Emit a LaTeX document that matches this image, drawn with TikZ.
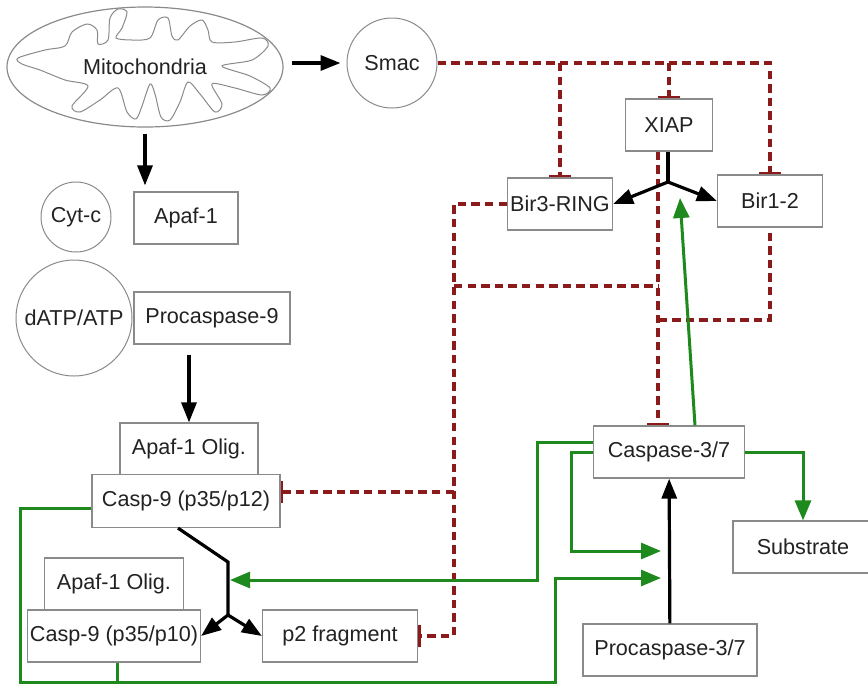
\documentclass[tikz,border=0pt]{standalone}
\usepackage{fontspec}
\setmainfont{Liberation Sans}
\usepackage{tikz}
\usetikzlibrary{positioning,arrows.meta,shapes.geometric}
\definecolor{cverde}{HTML}{1E8A1E}
\definecolor{crojo}{HTML}{8B1A1A}
\definecolor{cgris}{HTML}{8A8A8A}
\definecolor{ctexto}{HTML}{222222}
\tikzset{
  caja/.style={rectangle, draw=cgris, fill=white, line width=0.6pt, inner sep=0pt,
    text=ctexto, font=\fontsize{10.8}{13}\selectfont},
  circulo/.style={circle, draw=cgris, line width=0.5pt, inner sep=0pt,
    text=ctexto, font=\fontsize{10.8}{13}\selectfont},
  flecha/.style={-{Triangle[length=10pt,width=7.5pt]}, line width=1.6pt, draw=black},
  linea/.style={line width=1.6pt, draw=black},
  flechav/.style={-{Triangle[length=10pt,width=8pt]}, line width=1.5pt, draw=cverde},
  lineav/.style={line width=1.5pt, draw=cverde},
  rojo/.style={line width=1.7pt, draw=crojo, dash pattern=on 4.2pt off 2.6pt},
  inhibe/.style={rojo, -{Bar[width=11pt,line width=1.4pt]}},
}
\begin{document}
\begin{tikzpicture}[x=0.5pt, y=-0.5pt]
  \useasboundingbox (0,0) rectangle (868,687);
  \draw[cgris, line width=0.5pt] plot[smooth cycle, tension=0.5] coordinates {
    (18,58) (45,50) (65,46) (72,32) (87,24) (97,30) (98,44) (108,40) (110,18)
    (118,9) (127,12) (122,28) (116,38) (132,40) (150,38) (158,20) (168,18)
    (172,36) (178,40) (190,26) (202,20) (208,30) (212,42) (235,42) (262,38)
    (268,46) (252,60) (222,66) (250,76) (270,88) (262,95) (235,88) (212,84)
    (222,104) (215,112) (200,94) (188,82) (180,102) (170,120) (161,117)
    (155,94) (150,84) (142,106) (136,119) (127,112) (118,88) (100,100)
    (80,112) (72,106) (88,86) (65,80) (40,70) (22,64)};
  \node[ellipse, draw=cgris, line width=0.6pt, minimum width=138pt, minimum height=60pt,
    text=ctexto, font=\fontsize{10.8}{13}\selectfont] (mito) at (145,67) {Mitochondria};
  \node[circulo, minimum size=45pt] (smac) at (392,63) {Smac};
  \node[circulo, minimum size=35pt] (cytc) at (76,217) {Cyt-c};
  \node[caja, minimum width=52pt, minimum height=26pt] (apaf) at (186,218) {Apaf-1};
  \node[circulo, minimum size=58pt] (datp) at (74,318) {dATP/ATP};
  \node[caja, minimum width=78pt, minimum height=26pt] (procasp9) at (212,318) {Procaspase-9};
  \node[caja, minimum width=69pt, minimum height=26pt] (olig1) at (189,449) {Apaf-1 Olig.};
  \node[caja, minimum width=94pt, minimum height=26.5pt] (casp9a) at (186,501) {Casp-9 (p35/p12)};
  \node[caja, minimum width=69.5pt, minimum height=26pt] (olig2) at (114,584) {Apaf-1 Olig.};
  \node[caja, minimum width=86.5pt, minimum height=26pt] (casp9b) at (114,636) {Casp-9 (p35/p10)};
  \node[caja, minimum width=77.5pt, minimum height=26pt] (p2) at (340,636) {p2 fragment};
  \node[caja, minimum width=43.5pt, minimum height=26pt] (xiap) at (669,125) {XIAP};
  \node[caja, minimum width=52.5pt, minimum height=26pt] (bir3) at (560,204) {Bir3-RING};
  \node[caja, minimum width=52.5pt, minimum height=26pt] (bir12) at (770,201) {Bir1-2};
  \node[caja, minimum width=75.5pt, minimum height=26pt] (casp37) at (669,452) {Caspase-3/7};
  \node[caja, minimum width=70pt, minimum height=26pt] (subst) at (803,547) {Substrate};
  \node[caja, minimum width=87pt, minimum height=26pt] (procasp37) at (670,650) {Procaspase-3/7};
  \coordinate (jx) at (668,182);
  \coordinate (jv) at (680,198);
  \coordinate (codo) at (228,562);
  \coordinate (jc) at (228,615);
  \coordinate (gc9) at (230,580);
  \coordinate (t1) at (661,551);
  \coordinate (t2) at (661,578);
  \coordinate (fondoiz) at (20,682);
  \coordinate (fondoder) at (555,682);
  \coordinate (c9b) at ([xshift=1.5pt]casp9b.south);
  \coordinate (rv) at ([xshift=-26.5pt]bir3.west);
  \coordinate (c9r) at ([yshift=4.5pt]casp9a.east);
  \coordinate (xv) at ([xshift=-5.5pt]xiap.south);
  \coordinate (xc) at ([xshift=-5.5pt]casp37.north);
  \draw[inhibe] (smac.east) -| (bir12.north);
  \draw[inhibe] (smac.east -| bir3.north) -- (bir3.north);
  \draw[inhibe] (smac.east -| xiap.north) -- (xiap.north);
  \draw[inhibe] (bir3.west) -- (rv) |- (p2.east);
  \draw[inhibe] (rv |- c9r) -- (c9r);
  \draw[rojo] (rv |- 0,286) -- (xv |- 0,286);
  \draw[rojo, shorten <=2.5pt] (bir12.south) |- (xv |- 0,320);
  \draw[inhibe] (xv) -- (xc);
  \draw[flecha, shorten <=4pt, shorten >=3pt] (mito.east |- smac) -- (smac.west);
  \draw[flecha, shorten <=3pt, shorten >=3pt] (mito.south) -- (mito.south |- apaf.north);
  \draw[flecha, shorten <=5pt] (procasp9.south -| olig1.north) -- (olig1.north);
  \draw[linea] ([xshift=-4pt]casp9a.south) -- (codo) -- (jc);
  \draw[flecha] (jc) -- (casp9b.east);
  \draw[flecha] (jc) -- (p2.west);
  \draw[linea] (xiap.south -| jx) -- (jx);
  \draw[flecha] (jx) -- (bir3.east);
  \draw[flecha] (jx) -- (bir12.west);
  \draw[flecha] (procasp37) -- (casp37);
  \draw[flechav] ([xshift=13pt]casp37.north) -- (jv);
  \draw[flechav] (casp37.east) -| (subst.north);
  \draw[flechav] ([yshift=5pt]casp37.west) -- ++(-55,0) |- (gc9);
  \draw[flechav] (casp37.west) -- ++(-21,0) |- (t1);
  \draw[flechav] ([yshift=-3.5pt]casp9a.west) -| (fondoiz) -- (fondoder) |- (t2);
  \draw[lineav] (c9b) -- (c9b |- fondoiz);
\end{tikzpicture}
\end{document}
